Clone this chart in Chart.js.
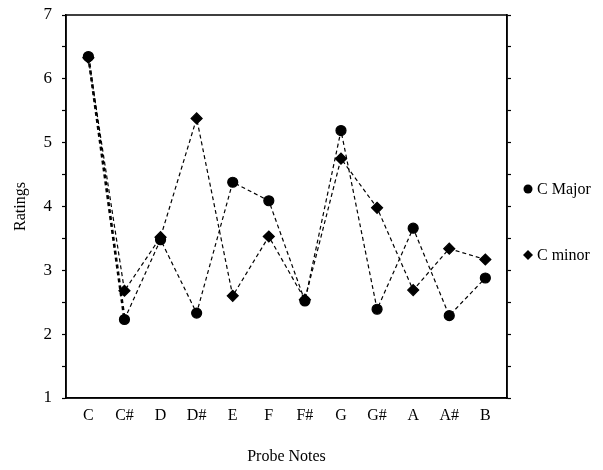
<!DOCTYPE html>
<html><head><meta charset="utf-8">
<script src="https://cdn.jsdelivr.net/npm/chart.js@4"></script>
<style>html,body{margin:0;padding:0;background:#fff}#wrap{width:603px;height:470px}</style>
</head><body><div id="wrap"><canvas id="c" width="603" height="470"></canvas></div>
<script>
const notes = ["C","C#","D","D#","E","F","F#","G","G#","A","A#","B"];
const majorRatings = [6.35,2.23,3.48,2.33,4.38,4.09,2.52,5.19,2.39,3.66,2.29,2.88];
const minorRatings = [6.33,2.68,3.52,5.38,2.60,3.53,2.54,4.75,3.98,2.69,3.34,3.17];
const seriesNames = ["C Major","C minor"];
const yTicks = [1,2,3,4,5,6,7];

const FONT = "'Liberation Serif', 'Times New Roman', serif";
const toPts = arr => arr.map((v,i)=>({x:i,y:v}));
const firstThick = {borderWidth: c => c.p0DataIndex === 0 ? 2.6 : 1.2};

const framePlugin = {
  id:'frame',
  afterDraw(chart){
    const {ctx, chartArea:a} = chart;
    ctx.save();
    ctx.strokeStyle='#000'; ctx.lineWidth=1.5;
    ctx.strokeRect(a.left, a.top, a.right-a.left, a.bottom-a.top);
    ctx.font = "16px " + FONT;
    ctx.fillStyle='#000';
    ctx.textBaseline='middle';
    const ys=[189,255];
    chart.data.datasets.forEach((ds,i)=>{
      const mx=528, my=ys[i];
      ctx.beginPath();
      if(ds.pointStyle==='circle'){ ctx.arc(mx,my,4.5,0,Math.PI*2); }
      else { const r=5; ctx.moveTo(mx,my-r); ctx.lineTo(mx+r,my); ctx.lineTo(mx,my+r); ctx.lineTo(mx-r,my); ctx.closePath(); }
      ctx.fill();
      ctx.fillText(ds.label, mx+9, my+1);
    });
    ctx.restore();
  }
};

const halfTicks = s => { const t=[]; for(let v=yTicks[0]; v<=yTicks[yTicks.length-1]+1e-9; v+=0.5) t.push({value:v}); s.ticks=t; };

new Chart(document.getElementById('c'), {
  type:'line',
  data:{
    datasets:[
      {label:seriesNames[0], data:toPts(majorRatings), borderColor:'#000', backgroundColor:'#000', borderWidth:1.2, borderDash:[4,3], segment:firstThick, pointStyle:'circle', pointRadius:5, pointHoverRadius:5, tension:0},
      {label:seriesNames[1], data:toPts(minorRatings), borderColor:'#000', backgroundColor:'#000', borderWidth:1.2, borderDash:[4,3], pointStyle:'rectRot', pointRadius:5.5, pointHoverRadius:5.5, tension:0}
    ]
  },
  options:{
    responsive:false, animation:false,
    layout:{padding:{top:15,left:0,right:0,bottom:0}},
    plugins:{legend:{display:false}, tooltip:{enabled:false}},
    scales:{
      x:{type:'linear', min:-0.62, max:11.6,
        afterBuildTicks(s){ s.ticks = notes.map((n,i)=>({value:i})); },
        afterFit(s){ s.height = 72; s.paddingLeft = 0; s.paddingRight = 0; },
        ticks:{callback:(v)=>notes[v], color:'#000', font:{family:FONT,size:16}, padding:8, maxRotation:0, autoSkip:false},
        grid:{display:true, drawOnChartArea:false, drawTicks:false, color:'#000'},
        border:{display:true, color:'#000', width:1.5},
        title:{display:true, text:'Probe Notes', color:'#000', font:{family:FONT,size:16}, padding:{top:22}}
      },
      y:{type:'linear', position:'left', min:1, max:7,
        afterBuildTicks: halfTicks,
        afterFit(s){ s.width = 66; s.paddingTop = 0; s.paddingBottom = 0; },
        ticks:{callback:(v)=> Number.isInteger(v)? String(v):'', color:'#000', font:{family:FONT,size:17}, padding:10},
        grid:{display:true, drawOnChartArea:false, drawTicks:true, tickLength:4, tickWidth:1.2, tickColor:'#000'},
        border:{display:true, color:'#000', width:1.5},
        title:{display:true, text:'Ratings', color:'#000', font:{family:FONT,size:16}, padding:{top:11,bottom:10}}
      },
      y2:{type:'linear', position:'right', min:1, max:7,
        afterBuildTicks: halfTicks,
        afterFit(s){ s.width = 96; s.paddingTop = 0; s.paddingBottom = 0; },
        ticks:{callback:()=> '', padding:0},
        grid:{display:true, drawOnChartArea:false, drawTicks:true, tickLength:4, tickWidth:1.2, tickColor:'#000'},
        border:{display:true, color:'#000', width:1.5}
      }
    }
  },
  plugins:[framePlugin]
});
</script></body></html>
